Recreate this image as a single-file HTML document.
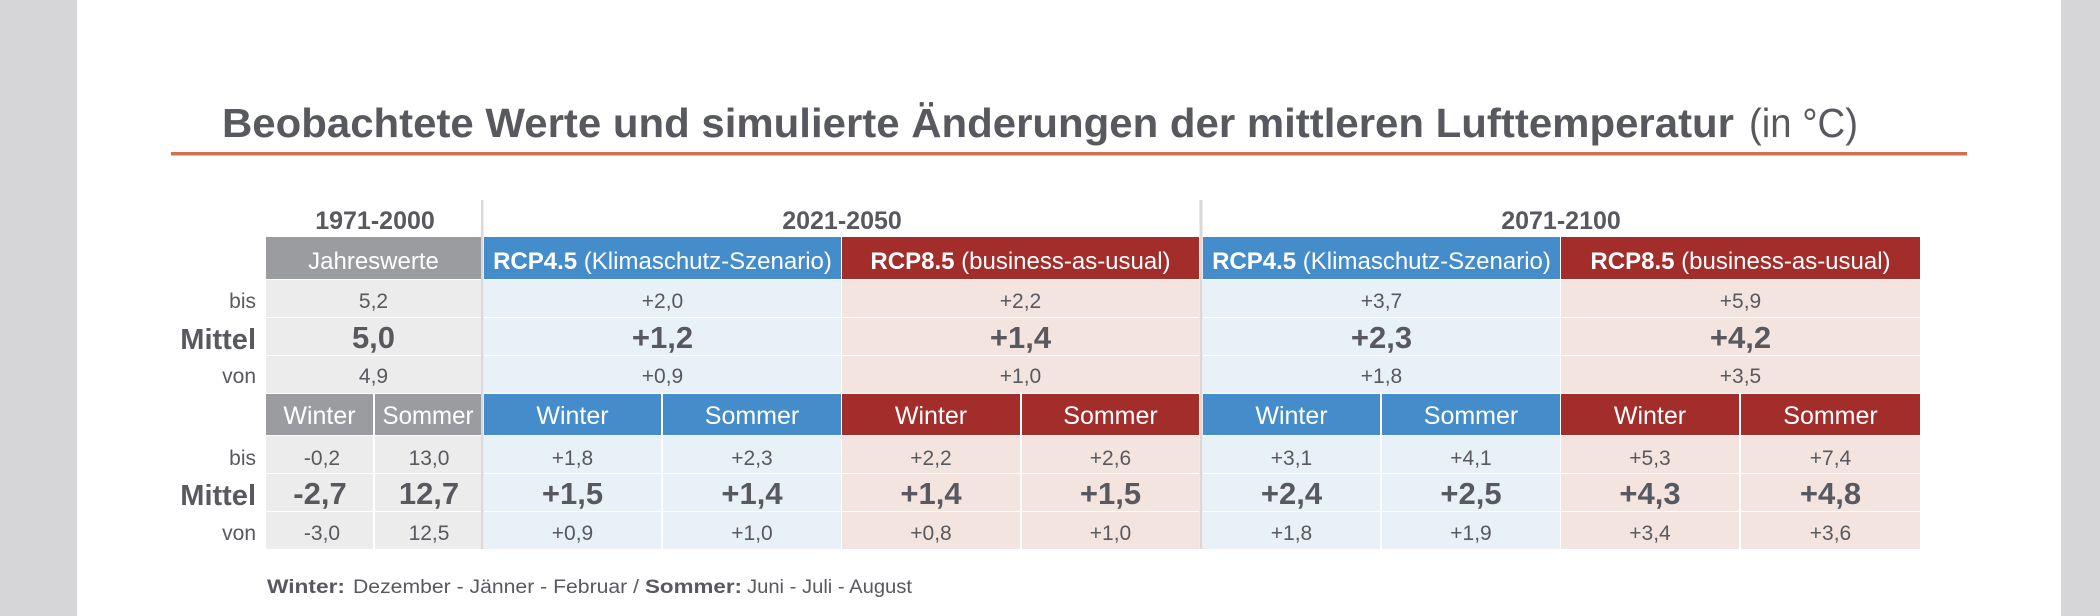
<!DOCTYPE html>
<html><head><meta charset="utf-8"><style>
html,body{margin:0;padding:0;background:#fff;}
svg{display:block;}
text{font-family:"Liberation Sans",sans-serif;fill:#58595e;}
.w{fill:#fff;}
.b{font-weight:bold;}
</style></head><body>
<svg width="2100" height="616" viewBox="0 0 2100 616" xmlns="http://www.w3.org/2000/svg">
<rect x="0" y="0" width="2100" height="616" fill="#fff"/>
<rect x="0" y="0" width="77" height="616" fill="#d6d6d8"/>
<rect x="2061" y="0" width="39" height="616" fill="#d6d6d8"/>

<!-- Title -->
<text x="222" y="137" font-size="41" class="b" textLength="1512" lengthAdjust="spacingAndGlyphs">Beobachtete Werte und simulierte Änderungen der mittleren Lufttemperatur</text>
<text x="1749" y="137" font-size="41" textLength="109" lengthAdjust="spacingAndGlyphs">(in °C)</text>
<rect x="171" y="152" width="1796" height="3.5" fill="#d0704e"/>

<!-- Year headers -->
<text x="375" y="229" font-size="25" class="b" text-anchor="middle">1971-2000</text>
<text x="842" y="229" font-size="25" class="b" text-anchor="middle">2021-2050</text>
<text x="1561" y="229" font-size="25" class="b" text-anchor="middle">2071-2100</text>

<!-- Header row A -->
<rect x="266" y="237" width="215" height="42" fill="#9b9c9f"/>
<rect x="484" y="237" width="357" height="42" fill="#448dca"/>
<rect x="842" y="237" width="357" height="42" fill="#a32d2a"/>
<rect x="1203" y="237" width="357" height="42" fill="#448dca"/>
<rect x="1561" y="237" width="359" height="42" fill="#a32d2a"/>
<text x="373.5" y="269" font-size="24" class="w" text-anchor="middle">Jahreswerte</text>
<text x="662.5" y="269" font-size="24" class="w" text-anchor="middle"><tspan font-weight="bold">RCP4.5</tspan> (Klimaschutz-Szenario)</text>
<text x="1020.5" y="269" font-size="24" class="w" text-anchor="middle"><tspan font-weight="bold">RCP8.5</tspan> (business-as-usual)</text>
<text x="1381.5" y="269" font-size="24" class="w" text-anchor="middle"><tspan font-weight="bold">RCP4.5</tspan> (Klimaschutz-Szenario)</text>
<text x="1740.5" y="269" font-size="24" class="w" text-anchor="middle"><tspan font-weight="bold">RCP8.5</tspan> (business-as-usual)</text>

<!-- Upper data rows -->
<g>
<rect x="266" y="280" width="215" height="37" fill="#ececec"/>
<rect x="266" y="318" width="215" height="37" fill="#ececec"/>
<rect x="266" y="356" width="215" height="37" fill="#ececec"/>
<rect x="484" y="280" width="357" height="37" fill="#e8f0f8"/>
<rect x="484" y="318" width="357" height="37" fill="#e8f0f8"/>
<rect x="484" y="356" width="357" height="37" fill="#e8f0f8"/>
<rect x="842" y="280" width="357" height="37" fill="#f4e4e0"/>
<rect x="842" y="318" width="357" height="37" fill="#f4e4e0"/>
<rect x="842" y="356" width="357" height="37" fill="#f4e4e0"/>
<rect x="1203" y="280" width="357" height="37" fill="#e8f0f8"/>
<rect x="1203" y="318" width="357" height="37" fill="#e8f0f8"/>
<rect x="1203" y="356" width="357" height="37" fill="#e8f0f8"/>
<rect x="1561" y="280" width="359" height="37" fill="#f4e4e0"/>
<rect x="1561" y="318" width="359" height="37" fill="#f4e4e0"/>
<rect x="1561" y="356" width="359" height="37" fill="#f4e4e0"/>
</g>
<text x="256" y="308" font-size="21" text-anchor="end">bis</text>
<text x="256" y="349" font-size="29" class="b" text-anchor="end">Mittel</text>
<text x="256" y="383" font-size="21" text-anchor="end">von</text>

<text x="373.5" y="308" font-size="21" text-anchor="middle">5,2</text>
<text x="373.5" y="348" font-size="31" class="b" text-anchor="middle">5,0</text>
<text x="373.5" y="383" font-size="21" text-anchor="middle">4,9</text>

<text x="662.5" y="308" font-size="21" text-anchor="middle">+2,0</text>
<text x="662.5" y="348" font-size="31" class="b" text-anchor="middle">+1,2</text>
<text x="662.5" y="383" font-size="21" text-anchor="middle">+0,9</text>

<text x="1020.5" y="308" font-size="21" text-anchor="middle">+2,2</text>
<text x="1020.5" y="348" font-size="31" class="b" text-anchor="middle">+1,4</text>
<text x="1020.5" y="383" font-size="21" text-anchor="middle">+1,0</text>

<text x="1381.5" y="308" font-size="21" text-anchor="middle">+3,7</text>
<text x="1381.5" y="348" font-size="31" class="b" text-anchor="middle">+2,3</text>
<text x="1381.5" y="383" font-size="21" text-anchor="middle">+1,8</text>

<text x="1740.5" y="308" font-size="21" text-anchor="middle">+5,9</text>
<text x="1740.5" y="348" font-size="31" class="b" text-anchor="middle">+4,2</text>
<text x="1740.5" y="383" font-size="21" text-anchor="middle">+3,5</text>

<!-- Season header row -->
<rect x="266" y="394" width="107" height="41" fill="#9b9c9f"/>
<rect x="375" y="394" width="106" height="41" fill="#9b9c9f"/>
<rect x="484" y="394" width="177" height="41" fill="#448dca"/>
<rect x="663" y="394" width="178" height="41" fill="#448dca"/>
<rect x="842" y="394" width="178" height="41" fill="#a32d2a"/>
<rect x="1022" y="394" width="177" height="41" fill="#a32d2a"/>
<rect x="1203" y="394" width="177" height="41" fill="#448dca"/>
<rect x="1382" y="394" width="178" height="41" fill="#448dca"/>
<rect x="1561" y="394" width="178" height="41" fill="#a32d2a"/>
<rect x="1741" y="394" width="179" height="41" fill="#a32d2a"/>

<text x="319.5" y="424" font-size="25" class="w" text-anchor="middle">Winter</text>
<text x="428" y="424" font-size="25" class="w" text-anchor="middle" textLength="91" lengthAdjust="spacingAndGlyphs">Sommer</text>
<text x="572.5" y="424" font-size="25" class="w" text-anchor="middle">Winter</text>
<text x="752" y="424" font-size="25" class="w" text-anchor="middle">Sommer</text>
<text x="931" y="424" font-size="25" class="w" text-anchor="middle">Winter</text>
<text x="1110.5" y="424" font-size="25" class="w" text-anchor="middle">Sommer</text>
<text x="1291.5" y="424" font-size="25" class="w" text-anchor="middle">Winter</text>
<text x="1471" y="424" font-size="25" class="w" text-anchor="middle">Sommer</text>
<text x="1650" y="424" font-size="25" class="w" text-anchor="middle">Winter</text>
<text x="1830.5" y="424" font-size="25" class="w" text-anchor="middle">Sommer</text>

<!-- Lower data rows -->
<g>
<rect x="266" y="436" width="107" height="37" fill="#ececec"/>
<rect x="266" y="474" width="107" height="37" fill="#ececec"/>
<rect x="266" y="512" width="107" height="37" fill="#ececec"/>
<rect x="375" y="436" width="106" height="37" fill="#ececec"/>
<rect x="375" y="474" width="106" height="37" fill="#ececec"/>
<rect x="375" y="512" width="106" height="37" fill="#ececec"/>

<rect x="484" y="436" width="177" height="37" fill="#e8f0f8"/>
<rect x="484" y="474" width="177" height="37" fill="#e8f0f8"/>
<rect x="484" y="512" width="177" height="37" fill="#e8f0f8"/>
<rect x="663" y="436" width="178" height="37" fill="#e8f0f8"/>
<rect x="663" y="474" width="178" height="37" fill="#e8f0f8"/>
<rect x="663" y="512" width="178" height="37" fill="#e8f0f8"/>

<rect x="842" y="436" width="178" height="37" fill="#f4e4e0"/>
<rect x="842" y="474" width="178" height="37" fill="#f4e4e0"/>
<rect x="842" y="512" width="178" height="37" fill="#f4e4e0"/>
<rect x="1022" y="436" width="177" height="37" fill="#f4e4e0"/>
<rect x="1022" y="474" width="177" height="37" fill="#f4e4e0"/>
<rect x="1022" y="512" width="177" height="37" fill="#f4e4e0"/>

<rect x="1203" y="436" width="177" height="37" fill="#e8f0f8"/>
<rect x="1203" y="474" width="177" height="37" fill="#e8f0f8"/>
<rect x="1203" y="512" width="177" height="37" fill="#e8f0f8"/>
<rect x="1382" y="436" width="178" height="37" fill="#e8f0f8"/>
<rect x="1382" y="474" width="178" height="37" fill="#e8f0f8"/>
<rect x="1382" y="512" width="178" height="37" fill="#e8f0f8"/>

<rect x="1561" y="436" width="178" height="37" fill="#f4e4e0"/>
<rect x="1561" y="474" width="178" height="37" fill="#f4e4e0"/>
<rect x="1561" y="512" width="178" height="37" fill="#f4e4e0"/>
<rect x="1741" y="436" width="179" height="37" fill="#f4e4e0"/>
<rect x="1741" y="474" width="179" height="37" fill="#f4e4e0"/>
<rect x="1741" y="512" width="179" height="37" fill="#f4e4e0"/>
</g>

<text x="256" y="465" font-size="21" text-anchor="end">bis</text>
<text x="256" y="505" font-size="29" class="b" text-anchor="end">Mittel</text>
<text x="256" y="540" font-size="21" text-anchor="end">von</text>

<text x="322" y="465" font-size="21" text-anchor="middle">-0,2</text>
<text x="320" y="504" font-size="31" class="b" text-anchor="middle">-2,7</text>
<text x="322" y="540" font-size="21" text-anchor="middle">-3,0</text>
<text x="429" y="465" font-size="21" text-anchor="middle">13,0</text>
<text x="429" y="504" font-size="31" class="b" text-anchor="middle">12,7</text>
<text x="429" y="540" font-size="21" text-anchor="middle">12,5</text>

<text x="572.5" y="465" font-size="21" text-anchor="middle">+1,8</text>
<text x="572.5" y="504" font-size="31" class="b" text-anchor="middle">+1,5</text>
<text x="572.5" y="540" font-size="21" text-anchor="middle">+0,9</text>
<text x="752" y="465" font-size="21" text-anchor="middle">+2,3</text>
<text x="752" y="504" font-size="31" class="b" text-anchor="middle">+1,4</text>
<text x="752" y="540" font-size="21" text-anchor="middle">+1,0</text>

<text x="931" y="465" font-size="21" text-anchor="middle">+2,2</text>
<text x="931" y="504" font-size="31" class="b" text-anchor="middle">+1,4</text>
<text x="931" y="540" font-size="21" text-anchor="middle">+0,8</text>
<text x="1110.5" y="465" font-size="21" text-anchor="middle">+2,6</text>
<text x="1110.5" y="504" font-size="31" class="b" text-anchor="middle">+1,5</text>
<text x="1110.5" y="540" font-size="21" text-anchor="middle">+1,0</text>

<text x="1291.5" y="465" font-size="21" text-anchor="middle">+3,1</text>
<text x="1291.5" y="504" font-size="31" class="b" text-anchor="middle">+2,4</text>
<text x="1291.5" y="540" font-size="21" text-anchor="middle">+1,8</text>
<text x="1471" y="465" font-size="21" text-anchor="middle">+4,1</text>
<text x="1471" y="504" font-size="31" class="b" text-anchor="middle">+2,5</text>
<text x="1471" y="540" font-size="21" text-anchor="middle">+1,9</text>

<text x="1650" y="465" font-size="21" text-anchor="middle">+5,3</text>
<text x="1650" y="504" font-size="31" class="b" text-anchor="middle">+4,3</text>
<text x="1650" y="540" font-size="21" text-anchor="middle">+3,4</text>
<text x="1830.5" y="465" font-size="21" text-anchor="middle">+7,4</text>
<text x="1830.5" y="504" font-size="31" class="b" text-anchor="middle">+4,8</text>
<text x="1830.5" y="540" font-size="21" text-anchor="middle">+3,6</text>

<!-- Separators -->
<rect x="481" y="200" width="2.5" height="349" fill="#d9d9da"/>
<rect x="1199.5" y="200" width="3" height="349" fill="#d9d9da"/>

<!-- Footnote -->
<text x="267" y="593" font-size="19" class="b" textLength="78" lengthAdjust="spacingAndGlyphs">Winter:</text>
<text x="353" y="593" font-size="19" textLength="286" lengthAdjust="spacingAndGlyphs">Dezember - Jänner - Februar /</text>
<text x="645" y="593" font-size="19" class="b" textLength="97" lengthAdjust="spacingAndGlyphs">Sommer:</text>
<text x="747" y="593" font-size="19" textLength="165" lengthAdjust="spacingAndGlyphs">Juni - Juli - August</text>
</svg>
</body></html>
